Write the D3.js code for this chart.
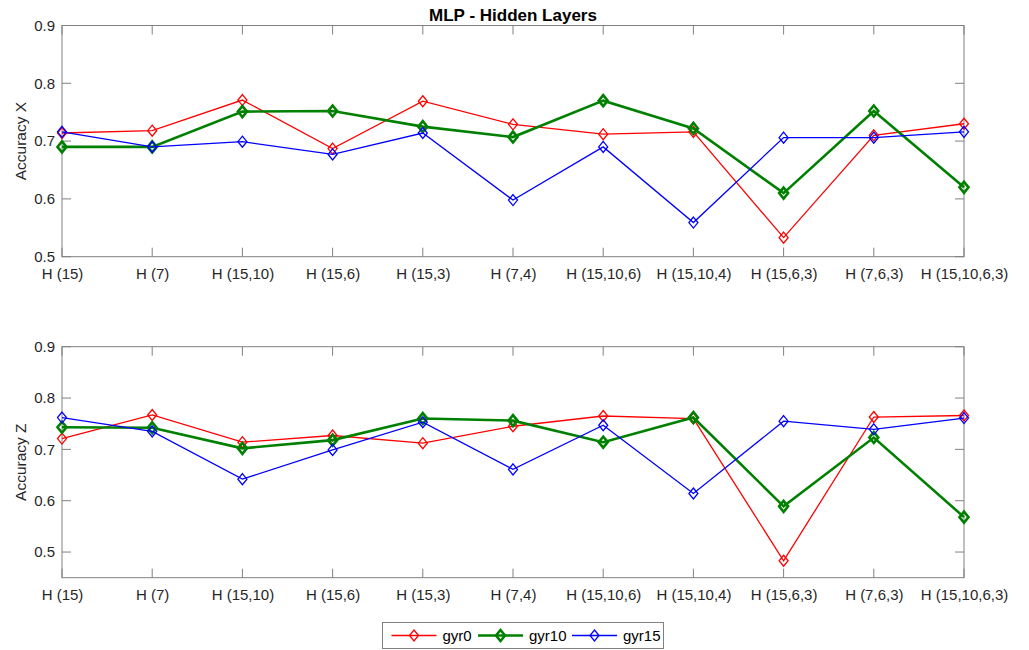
<!DOCTYPE html>
<html><head><meta charset="utf-8">
<script src="https://cdn.jsdelivr.net/npm/d3@7"></script>
<style>
html,body{margin:0;padding:0;background:#fff;}
text{font-family:"Liberation Sans",Arial,Helvetica,sans-serif;}
</style></head>
<body><svg id="c" width="1029" height="650"></svg>
<script>
const categories = ["H (15)","H (7)","H (15,10)","H (15,6)","H (15,3)","H (7,4)","H (15,10,6)","H (15,10,4)","H (15,6,3)","H (7,6,3)","H (15,10,6,3)"];
const seriesNames = ["gyr0","gyr10","gyr15"];
const accXgyr0  = [0.714,0.718,0.771,0.687,0.769,0.729,0.712,0.716,0.533,0.710,0.730];
const accXgyr10 = [0.690,0.690,0.751,0.752,0.725,0.707,0.770,0.722,0.610,0.752,0.620];
const accXgyr15 = [0.716,0.690,0.699,0.677,0.714,0.598,0.690,0.559,0.706,0.706,0.716];
const accZgyr0  = [0.721,0.767,0.714,0.727,0.712,0.745,0.765,0.760,0.483,0.763,0.766];
const accZgyr10 = [0.743,0.742,0.702,0.718,0.760,0.756,0.714,0.762,0.589,0.723,0.568];
const accZgyr15 = [0.762,0.735,0.642,0.699,0.753,0.661,0.747,0.614,0.755,0.739,0.761];
const yTicks = [0.5,0.6,0.7,0.8,0.9];

const colors = ["#ff0000","#008000","#0000ff"];
const widths = [1.3,2.6,1.3];
const diamond = "M0,-5.5L4.5,0L0,5.5L-4.5,0Z";
const svg = d3.select("#c");
const L = 62, R = 964;
const x = d3.scaleLinear().domain([0, categories.length-1]).range([L, R]);

function panel(top, bottom, yDomain, ylabel, data){
  const y = d3.scaleLinear().domain(yDomain).range([bottom, top]);
  const g = svg.append("g");
  g.append("rect").attr("x",L).attr("y",top).attr("width",R-L).attr("height",bottom-top)
    .attr("fill","#fff");
  const tl = 9;
  const ax = g.append("g").attr("stroke","#808080").attr("stroke-width",1);
  categories.forEach((c,i)=>{
    ax.append("line").attr("x1",x(i)).attr("x2",x(i)).attr("y1",bottom).attr("y2",bottom-tl);
    ax.append("line").attr("x1",x(i)).attr("x2",x(i)).attr("y1",top).attr("y2",top+tl);
  });
  yTicks.forEach(t=>{
    ax.append("line").attr("x1",L).attr("x2",L+tl).attr("y1",y(t)).attr("y2",y(t));
    ax.append("line").attr("x1",R).attr("x2",R-tl).attr("y1",y(t)).attr("y2",y(t));
  });
  ax.append("rect").attr("x",L).attr("y",top).attr("width",R-L).attr("height",bottom-top).attr("fill","none");
  const xa = d3.axisBottom(x).tickValues(d3.range(categories.length)).tickFormat(i=>categories[i]).tickSize(0).tickPadding(12);
  const xg = g.append("g").attr("transform",`translate(0,${bottom})`).call(xa);
  xg.select(".domain").remove();
  xg.selectAll("text").attr("font-size",15).attr("fill","#262626").attr("font-family","Liberation Sans, Arial, sans-serif");
  const ya = d3.axisLeft(y).tickValues(yTicks).tickFormat(d3.format(".1f")).tickSize(0).tickPadding(7);
  const yg = g.append("g").attr("transform",`translate(${L},0)`).call(ya);
  yg.select(".domain").remove();
  yg.selectAll("text").attr("font-size",15).attr("fill","#262626").attr("font-family","Liberation Sans, Arial, sans-serif");
  g.append("text").attr("transform",`translate(26,${(top+bottom)/2}) rotate(-90)`)
    .attr("text-anchor","middle").attr("font-size",15.5).attr("fill","#262626").text(ylabel);
  const line = d3.line().x((d,i)=>x(i)).y(d=>y(d));
  data.forEach((vals,k)=>{
    g.append("path").datum(vals).attr("d",line).attr("fill","none")
      .attr("stroke",colors[k]).attr("stroke-width",widths[k]).attr("stroke-linejoin","miter");
    g.selectAll(null).data(vals).enter().append("path")
      .attr("transform",(d,i)=>`translate(${x(i)},${y(d)})`)
      .attr("d",diamond)
      .attr("fill","none").attr("stroke",colors[k]).attr("stroke-width",widths[k]);
  });
}

svg.append("text").attr("x",(L+R)/2).attr("y",21).attr("text-anchor","middle")
  .attr("font-size",17).attr("font-weight","bold").attr("fill","#000").text("MLP - Hidden Layers");

panel(25.5, 256.7, [0.5,0.9], "Accuracy X", [accXgyr0,accXgyr10,accXgyr15]);
panel(346.7, 577.7, [0.45,0.9], "Accuracy Z", [accZgyr0,accZgyr10,accZgyr15]);

const lg = svg.append("g");
lg.append("rect").attr("x",382.5).attr("y",622.5).attr("width",281).attr("height",26)
  .attr("fill","#fff").attr("stroke","#808080").attr("stroke-width",1);
const lx = [391.5, 478, 572];
seriesNames.forEach((n,k)=>{
  const cy = 635.5;
  lg.append("line").attr("x1",lx[k]).attr("x2",lx[k]+45).attr("y1",cy).attr("y2",cy)
    .attr("stroke",colors[k]).attr("stroke-width",widths[k]);
  lg.append("path").attr("transform",`translate(${lx[k]+22.5},${cy})`).attr("d",diamond)
    .attr("fill","none").attr("stroke",colors[k]).attr("stroke-width",widths[k]);
  lg.append("text").attr("x",lx[k]+51).attr("y",cy+5.5).attr("font-size",15).attr("fill","#000").text(n);
});
</script></body></html>
